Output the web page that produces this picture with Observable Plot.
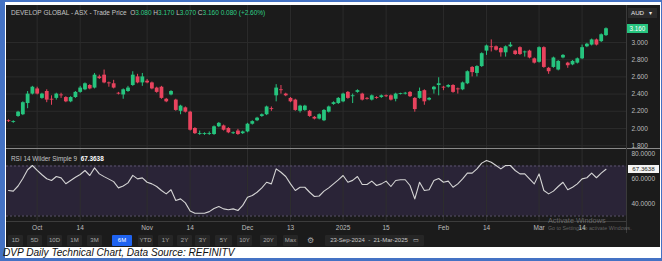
<!DOCTYPE html>
<html><head><meta charset="utf-8">
<script src="https://cdn.jsdelivr.net/npm/d3@7"></script>
<script src="https://cdn.jsdelivr.net/npm/@observablehq/plot@0.6"></script>
<style>
html,body{margin:0;padding:0;background:#fff;}
#frame{position:relative;width:662px;height:261px;overflow:hidden;background:#fff;font-family:"Liberation Sans",Arial,sans-serif;}
.abs{position:absolute;}
#dark{left:6px;top:5px;width:654px;height:242px;background:#1b1b1b;}
#title{left:11px;top:9px;font-size:6.5px;color:#c4c4c4;white-space:nowrap;}
#title .g{color:#2fcf86;}
#rsiTitle{left:11px;top:155px;font-size:6.4px;color:#c4c4c4;white-space:nowrap;}
#rsiTitle b{color:#fff;}
.btn{position:absolute;top:235px;height:11px;line-height:11px;font-size:6px;color:#a8a8a8;background:#262626;text-align:center;border-radius:1px;}
.btn.on{background:#1f63f0;color:#fff;}
#caption{left:3px;top:246.5px;font-size:10.1px;font-style:italic;color:#111;white-space:nowrap;}
</style></head><body>
<div id="frame">
  <div class="abs" style="left:0;top:0;width:5px;height:261px;background:#4472c4"></div>
  <div class="abs" style="left:0;top:0;width:662px;height:2px;background:#4472c4"></div>
  <div class="abs" style="left:0;top:258px;width:662px;height:3px;background:#4472c4"></div>
  <div class="abs" style="left:661px;top:0;width:1px;height:261px;background:#4472c4"></div>
  <div id="dark" class="abs"></div>
  <div id="mainHost" class="abs" style="left:6px;top:5px"></div>
  <div id="rsiHost" class="abs" style="left:6px;top:149px"></div>
  <div class="abs" style="left:6px;top:147.5px;width:654px;height:1.5px;background:#8a8a8a"></div>
  <div class="abs" style="left:6px;top:221px;width:620px;height:1px;background:#3c3c3c"></div>
  <div class="abs" style="left:626px;top:5px;width:1px;height:228px;background:#3a3a3a"></div>
  <div id="title" class="abs"></div>
  <div id="rsiTitle" class="abs"></div>
  <div class="abs" style="left:628px;top:8px;width:29px;height:10px;background:#2a2a2a;color:#e8e8e8;font-size:6.2px;line-height:10px;text-indent:3px">AUD&nbsp;&nbsp;&nbsp;▾</div>
  <div id="buttons"></div>
  <div class="abs" style="left:548px;top:216px;font-size:7.3px;color:rgba(190,190,190,0.45);white-space:nowrap">Activate Windows</div>
  <div class="abs" style="left:548px;top:225px;font-size:5.3px;color:rgba(190,190,190,0.45);white-space:nowrap">Go to Settings to activate Windows.</div>
  <div id="caption" class="abs">DVP Daily Technical Chart, Data Source: REFINITV</div>
</div>
<script>
// ---- data ----
const opens = [2.09,2.07,2.14,2.16,2.29,2.40,2.46,2.35,2.43,2.34, 2.35,2.39,2.36,2.31,2.36,2.42,2.45,2.50,2.47,2.60,
  2.62,2.53,2.52,2.41,2.39,2.43,2.50,2.60,2.53,2.55, 2.53,2.47,2.48,2.34,2.39,2.33,2.20,2.24,2.19,2.00,
  1.93,1.93,1.93,1.93,2.02,2.03,2.00,1.94,1.97,1.94, 1.96,2.05,2.09,2.14,2.16,2.23,2.38,2.45,2.40,2.35,
  2.33,2.20,2.21,2.20,2.13,2.11,2.09,2.19,2.28,2.29, 2.31,2.42,2.37,2.42,2.40,2.35,2.33,2.36,2.36,2.38,
  2.38,2.34,2.395,2.40,2.42,2.35,2.35,2.44,2.33,2.45, 2.50,2.48,2.48,2.50,2.46,2.45,2.52,2.71,2.64,2.72,
  2.90,2.95,2.95,2.93,2.88,2.95,2.90,2.94,2.88,2.90, 2.81,2.77,2.94,2.70,2.71,2.68,2.82,2.76,2.74,2.76,
  2.81,2.95,2.97,3.03,3.01,3.08];
const closes = [2.08,2.08,2.19,2.30,2.40,2.48,2.40,2.40,2.33,2.33, 2.40,2.38,2.31,2.36,2.42,2.47,2.52,2.46,2.62,2.58,
  2.53,2.52,2.47,2.40,2.45,2.47,2.62,2.53,2.60,2.53, 2.46,2.42,2.35,2.31,2.43,2.21,2.26,2.19,1.98,1.94,
  1.94,1.94,1.94,2.02,2.06,1.98,1.95,1.95,1.93,1.96, 2.05,2.08,2.12,2.16,2.25,2.22,2.47,2.44,2.38,2.31,
  2.21,2.26,2.26,2.14,2.11,2.16,2.21,2.25,2.30,2.35, 2.40,2.35,2.38,2.44,2.33,2.34,2.38,2.35,2.38,2.37,
  2.33,2.40,2.405,2.41,2.37,2.22,2.43,2.31,2.35,2.48, 2.52,2.47,2.50,2.42,2.45,2.53,2.66,2.65,2.72,2.87,
  2.96,2.94,2.91,2.88,2.95,2.97,2.86,2.86,2.89,2.82, 2.76,2.94,2.71,2.66,2.82,2.78,2.85,2.73,2.78,2.81,
  2.94,2.98,3.03,2.97,3.09,3.16];
const highs = [2.10,2.09,2.20,2.31,2.43,2.49,2.48,2.41,2.45,2.38, 2.41,2.41,2.37,2.37,2.43,2.49,2.53,2.51,2.64,2.62,
  2.68,2.54,2.56,2.42,2.46,2.49,2.66,2.63,2.64,2.57, 2.54,2.48,2.49,2.35,2.44,2.34,2.27,2.25,2.20,2.01,
  1.97,1.95,1.96,2.03,2.07,2.04,2.01,1.96,1.99,1.97, 2.06,2.09,2.13,2.17,2.26,2.25,2.51,2.50,2.41,2.36,
  2.34,2.27,2.27,2.21,2.14,2.17,2.22,2.26,2.31,2.36, 2.41,2.43,2.40,2.45,2.41,2.36,2.39,2.37,2.39,2.39,
  2.39,2.41,2.41,2.42,2.43,2.36,2.47,2.45,2.36,2.49, 2.59,2.49,2.51,2.51,2.47,2.54,2.67,2.72,2.73,2.88,
  2.97,3.03,2.96,2.94,2.96,3.00,2.91,2.95,2.90,2.91, 2.82,2.95,2.95,2.71,2.83,2.79,2.86,2.77,2.79,2.82,
  2.97,2.99,3.04,3.04,3.10,3.17];
const lows = [2.07,2.06,2.13,2.15,2.23,2.39,2.39,2.34,2.30,2.27, 2.33,2.35,2.30,2.30,2.35,2.41,2.44,2.45,2.46,2.57,
  2.52,2.48,2.46,2.39,2.34,2.42,2.49,2.52,2.49,2.52, 2.45,2.41,2.34,2.30,2.38,2.20,2.16,2.18,1.97,1.93,
  1.92,1.92,1.92,1.92,2.01,1.97,1.94,1.93,1.92,1.93, 1.95,2.04,2.08,2.13,2.15,2.20,2.31,2.40,2.37,2.30,
  2.20,2.18,2.20,2.13,2.10,2.10,2.08,2.18,2.27,2.28, 2.30,2.34,2.29,2.41,2.32,2.33,2.32,2.34,2.35,2.36,
  2.32,2.31,2.39,2.39,2.36,2.19,2.34,2.27,2.32,2.40, 2.38,2.44,2.47,2.41,2.40,2.44,2.51,2.60,2.60,2.71,
  2.85,2.89,2.90,2.83,2.83,2.94,2.85,2.85,2.83,2.81, 2.75,2.76,2.70,2.63,2.70,2.67,2.81,2.70,2.73,2.75,
  2.80,2.94,2.96,2.96,3.00,3.07];
const rsi = [50.4,49.9,54,60,67,70.4,66.5,63,59.8,58.4, 61.6,60.5,55.8,58.4,61,63.2,66.4,62.4,68.5,63.7,
  61.5,59.5,57.5,52.5,54,56.5,62.5,59.7,60.5,57, 55.7,53.6,50.4,47.7,51,42.4,43.7,40.5,34,32.2,
  32.2,32.2,33.5,36,37.6,35.7,35,35.7,34.4,38.5, 45,46.4,49,52.5,57,55.7,67.7,65,61.6,55.7,
  50.4,53,53,49,45.6,46,49.9,52.5,55.7,58.9, 62.4,57,58.5,61.6,55.2,55.2,57.9,54.4,55.7,57.9,
  53.6,58.4,59,59,54.4,43.7,57,50.4,51,58.4, 60,57,57.9,53,55.7,59.7,64.3,64.3,67.7,72.3,
  74.4,73,70.4,67.7,70.4,70.4,66.4,63.7,63.7,59.7, 55.7,63.7,50.4,47.7,49.9,53.6,57,51,53,55.7,
  59.7,60.6,64.3,60.6,64.3,67.3638];
const xTickIndex = [6,15,29,38,50,59,70,79,91,100,111,120];      // trading-day index of each label
const xTickLabels = ["Oct","14","Nov","14","Dec","13","2025","15","Feb","14","Mar","14"];
const priceTicks = [1.8,2.0,2.2,2.4,2.6,2.8,3.0];
const rsiTicks = [40,60,80];
const rsiBand = [30,70];
const quote = {name:"DEVELOP GLOBAL - ASX - Trade Price", o:"3.080", h:"3.170", l:"3.070", c:"3.160", chg:"0.080 (+2.60%)"};
const rsiName = "RSI 14 Wilder Simple 9";
const rangeButtons = ["1D","5D","10D","1M","3M","6M","YTD","1Y","2Y","3Y","5Y","10Y","20Y","Max"];
const activeRange = "6M";
const dateRange = "23-Sep-2024  -  21-Mar-2025";

// ---- drawing ----
const GREEN = "#26c47e", RED = "#e8435e";
const candles = closes.map((c,i) => ({i, o:opens[i], h:highs[i], l:lows[i], c}));
const col = d => d.c >= d.o ? GREEN : RED;
const xDomain = [-0.418, 129.29];
const baseStyle = {background:"transparent", color:"#bdbdbd", fontFamily:"'Liberation Sans', Arial, sans-serif", fontSize:"6.5px", overflow:"visible"};

const main = Plot.plot({
  width:654, height:143, marginTop:0, marginBottom:0, marginLeft:0, marginRight:34,
  style: baseStyle,
  x:{domain:xDomain, axis:null},
  y:{domain:[1.7674, 3.4302], axis:null},
  marks:[
    Plot.gridY(priceTicks, {stroke:"#2b2b2b", strokeOpacity:1}),
    Plot.gridX(xTickIndex, {stroke:"#2b2b2b", strokeOpacity:1}),
    Plot.axisY(priceTicks, {anchor:"right", tickSize:0, tickPadding:5, tickFormat:d3.format(".3f"), fill:"#bdbdbd"}),
    Plot.ruleX(candles, {x:"i", y1:"l", y2:"h", stroke:col, strokeWidth:1}),
    Plot.ruleX(candles, {x:"i", y1:"o", y2:"c", stroke:col, strokeWidth:3.8})
  ]
});
document.getElementById("mainHost").appendChild(main);

const rsiChart = Plot.plot({
  width:654, height:84, marginTop:0, marginBottom:12, marginLeft:0, marginRight:34,
  style: baseStyle,
  x:{domain:xDomain, axis:null},
  y:{domain:[25.6, 83.2], axis:null},
  marks:[
    Plot.rect([rsiBand], {y1:d=>d[0], y2:d=>d[1], fill:"#2a2437"}),
    Plot.gridX(xTickIndex, {stroke:"#2e2e2e", strokeOpacity:1}),
    Plot.ruleY(rsiBand, {stroke:"#5d5470", strokeDasharray:"2,2"}),
    Plot.axisY(rsiTicks, {anchor:"right", tickSize:0, tickPadding:5, tickFormat:d3.format(".4f"), fill:"#bdbdbd"}),
    Plot.axisX(xTickIndex, {anchor:"bottom", tickSize:0, tickPadding:4, tickFormat:(d,i)=>xTickLabels[i], fill:"#bdbdbd"}),
    Plot.line(rsi, {x:(d,i)=>i, y:d=>d, stroke:"#d4d4d4", strokeWidth:1.1})
  ]
});
document.getElementById("rsiHost").appendChild(rsiChart);

// titles
document.getElementById("title").innerHTML =
  `${quote.name}&nbsp; O<span class="g">${quote.o}</span> H<span class="g">${quote.h}</span> L<span class="g">${quote.l}</span> C<span class="g">${quote.c}</span> <span class="g">${quote.chg}</span>`;
const lastRsi = rsi[rsi.length-1];
document.getElementById("rsiTitle").innerHTML = `${rsiName}&nbsp; <b>${d3.format(".4f")(lastRsi)}</b>`;

// last-value labels placed through the charts' own scales
const frame = document.getElementById("frame");
const lastClose = closes[closes.length-1];
const yMain = main.scale("y").apply(lastClose) + 5;
const pl = document.createElement("div");
pl.className = "abs";
pl.style.cssText = `left:627px;top:${yMain-4.5}px;width:21px;height:9px;background:${GREEN};color:#fff;font-size:6.3px;line-height:9px;text-align:center;`;
pl.textContent = d3.format(".3f")(lastClose);
frame.appendChild(pl);
const yR = rsiChart.scale("y").apply(lastRsi) + 149;
const rl = document.createElement("div");
rl.className = "abs";
rl.style.cssText = `left:628px;top:${yR-4}px;width:31px;height:8px;background:#f4f4f4;color:#222;font-size:6.2px;line-height:8px;text-align:center;`;
rl.textContent = d3.format(".4f")(lastRsi);
frame.appendChild(rl);

// toolbar
const btnLeft = [8,27,47,67,87,112,138,158,177,195,215,237,260,283];
const btnWidth = [15,15,15,15,15,20,15,15,15,15,17,15,17,15];
const bHost = document.getElementById("buttons");
rangeButtons.forEach((t,i) => {
  const b = document.createElement("div");
  b.className = "btn" + (t === activeRange ? " on" : "");
  b.style.left = (btnLeft[i]) + "px";
  b.style.width = btnWidth[i] + "px";
  b.textContent = t;
  bHost.appendChild(b);
});
const gear = document.createElement("div");
gear.className = "btn"; gear.style.left = "304px"; gear.style.width = "12px"; gear.style.background="transparent";
gear.style.fontSize = "8px"; gear.textContent = "⚙";
bHost.appendChild(gear);
const dr = document.createElement("div");
dr.className = "btn"; dr.style.left = "325px"; dr.style.width = "99px"; dr.style.color = "#c8c8c8";
dr.innerHTML = dateRange.replace(/ /g,"&nbsp;") + "&nbsp;&nbsp;&nbsp;▭";
bHost.appendChild(dr);
</script>
</body></html>
